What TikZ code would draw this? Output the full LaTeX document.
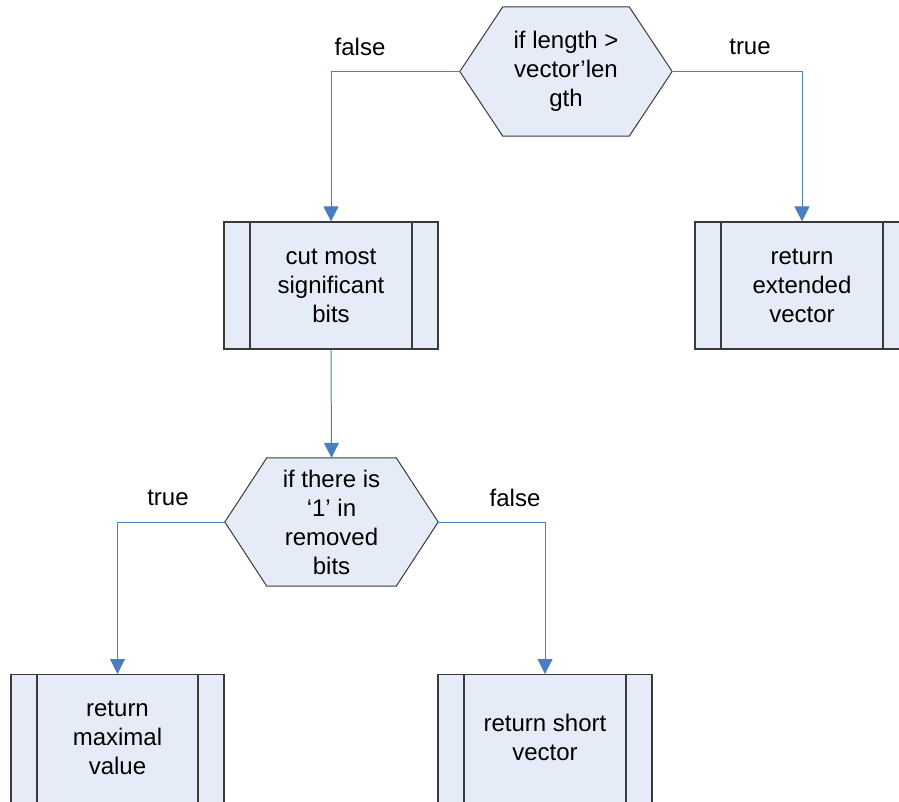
\documentclass[tikz,border=0pt]{standalone}
\usepackage{fontspec}
\setmainfont{Liberation Sans}
\usetikzlibrary{arrows.meta,calc}
\definecolor{shapefill}{HTML}{E6ECF7}
\definecolor{shapeline}{HTML}{3A3A3A}
\definecolor{flowblue}{HTML}{4A7EC0}
\tikzset{
  txt/.style={font=\fontsize{24}{29}\selectfont, align=center, inner sep=0pt},
  procbox/.style={txt, rectangle, draw=shapeline, fill=shapefill, line width=1.2pt,
    minimum width=214pt, minimum height=127pt,
    path picture={
      \draw[shapeline, line width=1.2pt]
        ([xshift=26pt]path picture bounding box.north west) -- ([xshift=26pt]path picture bounding box.south west)
        ([xshift=-26pt]path picture bounding box.north east) -- ([xshift=-26pt]path picture bounding box.south east);
    }},
  hexframe/.style={txt, rectangle, draw=none, minimum width=212pt, minimum height=129pt},
  hexline/.style={draw=shapeline, fill=shapefill, line width=1pt, line join=miter},
  flow/.style={draw=flowblue, line width=1pt, -{Triangle[length=15pt,width=15pt]}},
  lbl/.style={font=\fontsize{24}{29}\selectfont, inner sep=0pt}
}
\newcommand{\hexagon}[2]{%
  \path[hexline] ($(#1.north west)+(#2,0)$) -- ($(#1.north east)+(-#2,0)$) -- (#1.east)
    -- ($(#1.south east)+(-#2,0)$) -- ($(#1.south west)+(#2,0)$) -- (#1.west) -- cycle;}
\begin{document}
\begin{tikzpicture}[x=1pt, y=-1pt]
  \useasboundingbox (0,0) rectangle (899,801);

  % top decision
  \node[hexframe] (len) at (566,71.5) {};
  \hexagon{len}{43}
  \node[txt] (lentxt) at (len) {if length >\\vector’len\\gth};

  % processes of the upper level
  \node[procbox] (cut) at (331,285.5) {cut most\\significant\\bits};
  \node[procbox] (ext) at (802,285.5) {return\\extended\\vector};

  % second decision
  \node[hexframe, minimum width=213pt, minimum height=128pt] (bits) at (331.5,522) {};
  \hexagon{bits}{42}
  \node[txt] (bitstxt) at (bits) {if there is\\‘1’ in\\removed\\bits};

  % returns of the lower level (they run on past the lower edge)
  \node[procbox, minimum width=213pt, minimum height=140pt, anchor=north] (maxv) at (117.5,674) {};
  \node[txt] (maxvtxt) at (117.5,737.5) {return\\maximal\\value};
  \node[procbox, minimum height=140pt, anchor=north] (short) at (545,674) {};
  \node[txt] (shorttxt) at (545,737.5) {return short\\vector};

  % connectors
  \draw[flow] (len.west) -| (cut.north);
  \draw[flow] (len.east) -| (ext.north);
  \draw[flow] (cut.south) -- (bits.north);
  \draw[flow] (bits.west) -| (maxv.north);
  \draw[flow] (bits.east) -| (short.north);

  % branch labels
  \node[lbl] (f1) at (360,47) {false};
  \node[lbl] (t1) at (750,47) {true};
  \node[lbl] (t2) at (168,498) {true};
  \node[lbl] (f2) at (515,498) {false};
\end{tikzpicture}
\end{document}
